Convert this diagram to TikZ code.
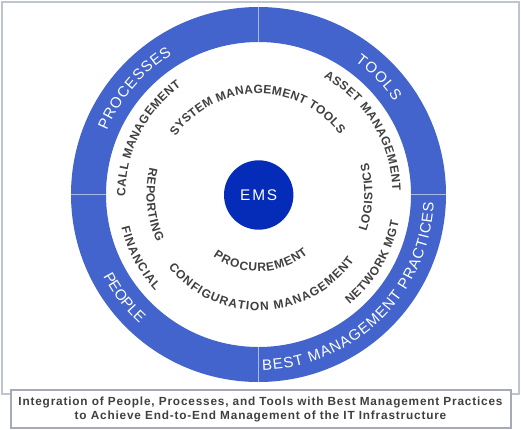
\documentclass[tikz,border=0pt]{standalone}
\usepackage{fontspec}
\setmainfont{Liberation Sans}
\newfontfamily\capfont[LetterSpace=7]{Liberation Sans}
\newfontfamily\emsfont[LetterSpace=12]{Liberation Sans}
\usetikzlibrary{decorations.text}
\definecolor{ringblue}{RGB}{66,100,204}
\definecolor{emsblue}{RGB}{4,44,184}
\definecolor{labelgray}{RGB}{64,64,64}
\definecolor{framegray}{RGB}{190,196,210}
\definecolor{boxgray}{RGB}{165,170,182}
\definecolor{divline}{RGB}{170,185,230}
\newcommand\ringfnt{\fontsize{15}{18}\selectfont}
\newcommand\innerfnt{\bfseries\fontsize{12}{14}\selectfont}
% #1 font, #2 colour, #3 baseline radius, #4 start angle, #5 end angle, #6 text
\newcommand\arclabel[6]{%
  \path[decorate,decoration={text along path,text={|#1|#6},text align=fit to path,text color=#2}]
    ([shift={(#4:#3)}]c) arc[start angle=#4,end angle=#5,radius=#3];}
\begin{document}
\begin{tikzpicture}[x=1pt,y=1pt]
\useasboundingbox (0,0) rectangle (521,-429);
\fill[white] (0,0) rectangle (521,-429);
\coordinate (c) at (258.5,-194.5);
% outer frame
\draw[framegray,line width=2] (1.5,-1.5) rectangle (519,-394);
% ring
\fill[ringblue,even odd rule] (c) circle[radius=187.5] (c) circle[radius=152.5];
\foreach \a in {0,90,180,270}
  \draw[divline,line width=1] ([shift={(\a:152.5)}]c) -- ([shift={(\a:187.5)}]c);
% ring labels
\arclabel{\ringfnt}{white}{164.5}{157.2}{121.7}{PROCESSES}
\arclabel{\ringfnt}{white}{164.5}{54}{34.4}{TOOLS}
\arclabel{\ringfnt}{white}{175.5}{207.7}{227}{PEOPLE}
\arclabel{\ringfnt}{white}{175.5}{271.3}{357.4}{BEST MANAGEMENT PRACTICES}
% inner labels, clockwise
\arclabel{\innerfnt}{labelgray}{133}{181}{125.5}{CALL MANAGEMENT}
\arclabel{\innerfnt}{labelgray}{101}{145}{36.5}{SYSTEM MANAGEMENT TOOLS}
\arclabel{\innerfnt}{labelgray}{134}{61}{1.5}{ASSET MANAGEMENT}
% inner labels, counterclockwise
\arclabel{\innerfnt}{labelgray}{112}{166}{205}{REPORTING}
\arclabel{\innerfnt}{labelgray}{141}{193.5}{223}{FINANCIAL}
\arclabel{\innerfnt}{labelgray}{116}{219}{325.5}{CONFIGURATION MANAGEMENT}
\arclabel{\innerfnt}{labelgray}{77}{234}{310}{PROCUREMENT}
\arclabel{\innerfnt}{labelgray}{114}{341}{376}{LOGISTICS}
\arclabel{\innerfnt}{labelgray}{143}{309.5}{349}{NETWORK MGT}
% centre
\node[circle,fill=emsblue,minimum size=69.4pt,inner sep=0pt,text=white,
      font=\emsfont\fontsize{15.4}{18}\selectfont] (ems) at (258.7,-195) {EMS};
% caption
\draw[boxgray,line width=1.5,fill=white] (11,-390) rectangle (511,-428);
\node[font=\capfont\bfseries\fontsize{11.8}{14}\selectfont,text=labelgray,align=center,inner sep=0pt]
  (cap) at (260.5,-409) {Integration of People, Processes, and Tools with Best Management Practices\\
  to Achieve End-to-End Management of the IT Infrastructure};
\end{tikzpicture}
\end{document}
